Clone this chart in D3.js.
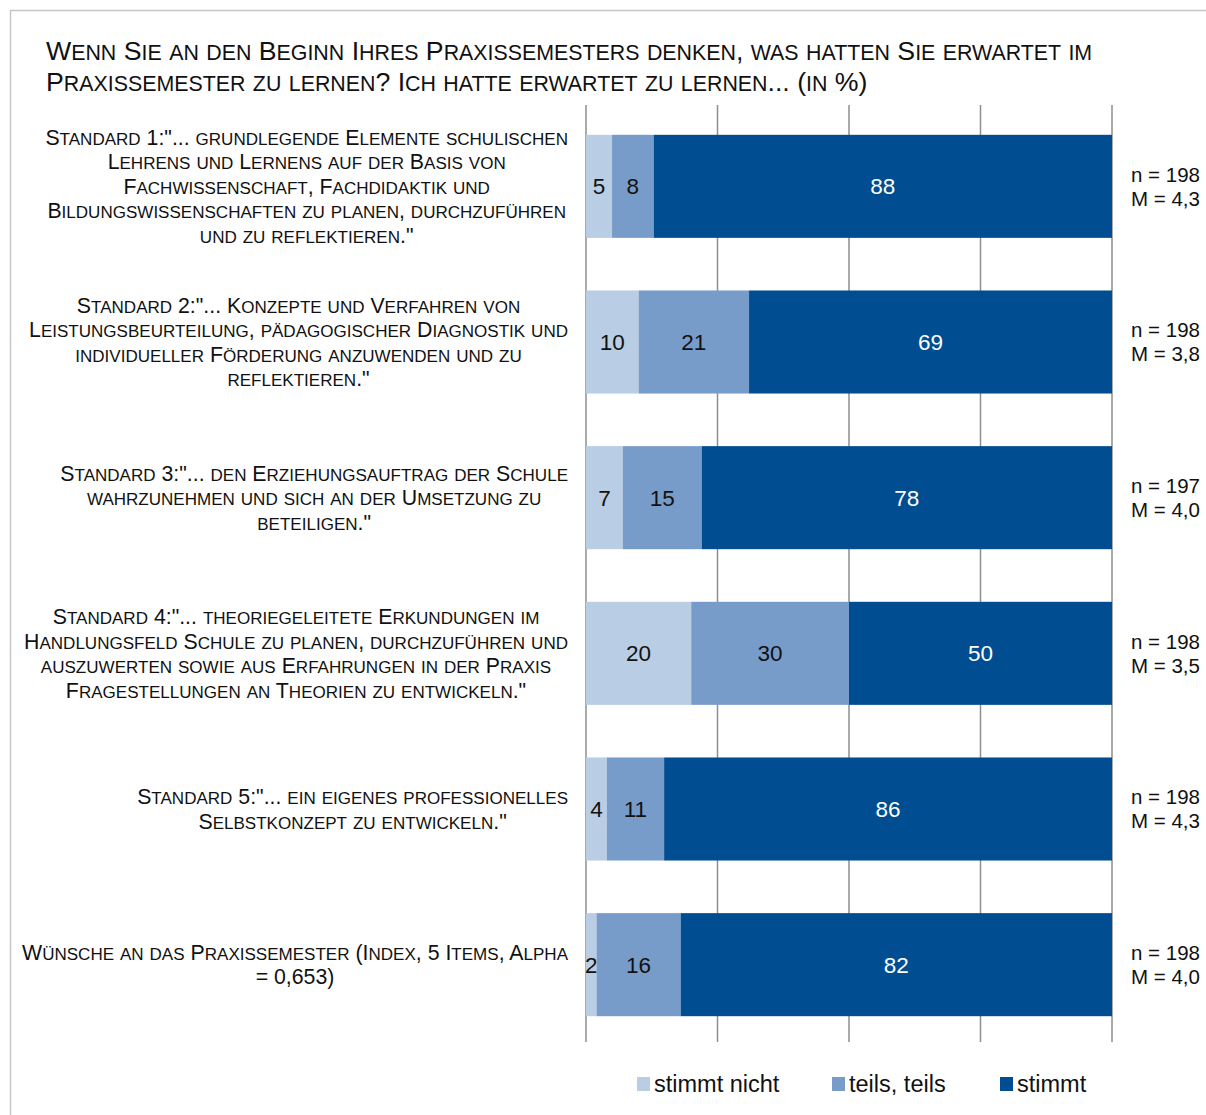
<!DOCTYPE html>
<html>
<head>
<meta charset="utf-8">
<script src="https://d3js.org/d3.v7.min.js"></script>
<style>
    body {
        margin: 0;
        background-color: white;
        font-family: "Liberation Sans", Arial, sans-serif;
    }

    svg {
        display: block;
    }
</style>
</head>
<body>
<svg></svg>
<script>
    const categories = ["std1", "std2", "std3", "std4", "std5", "index"];
    const labelLines = [
        ["Standard 1:\"... grundlegende Elemente schulischen", "Lehrens und Lernens auf der Basis von", "Fachwissenschaft, Fachdidaktik und", "Bildungswissenschaften zu planen, durchzuführen", "und zu reflektieren.\""],
        ["Standard 2:\"... Konzepte und Verfahren von", "Leistungsbeurteilung, pädagogischer Diagnostik und", "individueller Förderung anzuwenden und zu", "reflektieren.\""],
        ["Standard 3:\"... den Erziehungsauftrag der Schule", "wahrzunehmen und sich an der Umsetzung zu", "beteiligen.\""],
        ["Standard 4:\"... theoriegeleitete Erkundungen im", "Handlungsfeld Schule zu planen, durchzuführen und", "auszuwerten sowie aus Erfahrungen in der Praxis", "Fragestellungen an Theorien zu entwickeln.\""],
        ["Standard 5:\"... ein eigenes professionelles", "Selbstkonzept zu entwickeln.\""],
        ["Wünsche an das Praxissemester (Index, 5 Items, Alpha", "= 0,653)"]
    ];
    const seriesNames = ["stimmt nicht", "teils, teils", "stimmt"];
    const stimmtNicht = [5, 10, 7, 20, 4, 2];
    const teilsTeils = [8, 21, 15, 30, 11, 16];
    const stimmt = [88, 69, 78, 50, 86, 82];
    const nValues = ["198", "198", "197", "198", "198", "198"];
    const mValues = ["4,3", "3,8", "4,0", "3,5", "4,3", "4,0"];
    const gridTicks = [0, 0.25, 0.5, 0.75, 1];
    const titleLines = [
        "Wenn Sie an den Beginn Ihres Praxissemesters denken, was hatten Sie erwartet im",
        "Praxissemester zu lernen? Ich hatte erwartet zu lernen... (in %)"
    ];

    const colors = ["#b9cde5", "#789cca", "#004d91"];

    // fake small caps: lowercase runs become smaller capitals
    function smallCaps(text, str, size) {
        let runs = [];
        for (let ch of str) {
            let lower = ch !== ch.toUpperCase();
            let last = runs[runs.length - 1];
            if (last && last.lower === lower) last.s += ch;
            else runs.push({lower: lower, s: ch});
        }
        text.selectAll("tspan")
            .data(runs)
            .join("tspan")
            .attr("font-size", r => r.lower ? size * 0.8 : size)
            .text(r => r.lower ? r.s.toUpperCase() : r.s);
    }

    function createVis() {
        let width = 1206;
        let height = 1115;
        let svg = d3.select("svg")
            .attr("width", width)
            .attr("height", height);

        // frame
        svg.append("rect")
            .attr("x", 10.5)
            .attr("y", 10.5)
            .attr("width", width + 10)
            .attr("height", height + 10)
            .attr("fill", "white")
            .attr("stroke", "#c6c6c6")
            .attr("stroke-width", 1.5);

        // title
        svg.append("g")
            .selectAll("text")
            .data(titleLines)
            .join("text")
            .attr("x", 46)
            .attr("y", (d, i) => 60 + i * 31)
            .attr("fill", "#111")
            .each(function (d) { smallCaps(d3.select(this), d, 26.7); });

        let data = categories.map((c, i) => ({
            key: c,
            "stimmt nicht": stimmtNicht[i],
            "teils, teils": teilsTeils[i],
            "stimmt": stimmt[i]
        }));

        let stack = d3.stack()
            .keys(seriesNames)
            .offset(d3.stackOffsetExpand);
        let series = stack(data);

        let xScale = d3.scaleLinear()
            .domain([0, 1])
            .range([586, 1112]);
        let yScale = d3.scaleBand()
            .domain(categories)
            .range([108.5, 1042.5])
            .paddingInner(0.338)
            .paddingOuter(0.169);

        // gridlines
        svg.append("g")
            .selectAll("line")
            .data(gridTicks)
            .join("line")
            .attr("x1", d => xScale(d))
            .attr("x2", d => xScale(d))
            .attr("y1", 105)
            .attr("y2", 1042)
            .attr("stroke", "#8e8e8e")
            .attr("stroke-width", 1.5);

        // bars
        let groups = svg.append("g")
            .selectAll("g")
            .data(series)
            .join("g")
            .attr("fill", (d, i) => colors[i]);

        groups.selectAll("rect")
            .data(d => d)
            .join("rect")
            .attr("x", d => xScale(d[0]))
            .attr("width", d => xScale(d[1]) - xScale(d[0]))
            .attr("y", d => yScale(d.data.key))
            .attr("height", yScale.bandwidth());

        // value labels
        groups.selectAll("text")
            .data((s, si) => s.map(d => ({d: d, si: si, v: d.data[s.key]})))
            .join("text")
            .attr("x", o => (xScale(o.d[0]) + xScale(o.d[1])) / 2)
            .attr("y", o => yScale(o.d.data.key) + yScale.bandwidth() / 2)
            .attr("dy", "0.36em")
            .attr("text-anchor", "middle")
            .attr("font-size", 22.5)
            .attr("fill", o => o.si === 2 ? "white" : "#111")
            .text(o => o.v);

        // category labels
        let lineH = 24.5;
        categories.forEach((c, i) => {
            let lines = labelLines[i];
            let cy = yScale(c) + yScale.bandwidth() / 2;
            let g = svg.append("g");
            let texts = g.selectAll("text")
                .data(lines)
                .join("text")
                .attr("y", (d, j) => cy + (j - (lines.length - 1) / 2) * lineH + 7.5)
                .attr("text-anchor", "middle")
                .attr("fill", "#111")
                .each(function (d) { smallCaps(d3.select(this), d, 21.3); });
            let maxW = d3.max(texts.nodes(), n => n.getComputedTextLength());
            texts.attr("x", 568 - maxW / 2);
        });

        // n / M annotations
        categories.forEach((c, i) => {
            let cy = yScale(c) + yScale.bandwidth() / 2;
            svg.append("g")
                .selectAll("text")
                .data([`n = ${nValues[i]}`, `M = ${mValues[i]}`])
                .join("text")
                .attr("x", 1131)
                .attr("y", (d, j) => cy + (j - 0.5) * 24)
                .attr("dy", "0.36em")
                .attr("font-size", 20.5)
                .attr("fill", "#111")
                .text(d => d);
        });

        // legend
        let legendX = [637, 832, 1000];
        let legend = svg.append("g")
            .selectAll("g")
            .data(seriesNames)
            .join("g")
            .attr("transform", (d, i) => `translate(${legendX[i]},1084)`);
        legend.append("rect")
            .attr("x", 0)
            .attr("y", -7)
            .attr("width", 13)
            .attr("height", 14)
            .attr("fill", (d, i) => colors[i]);
        legend.append("text")
            .attr("x", 17)
            .attr("dy", "0.36em")
            .attr("font-size", 23.5)
            .attr("fill", "#111")
            .text(d => d);
    }
    createVis();
</script>
</body>
</html>
